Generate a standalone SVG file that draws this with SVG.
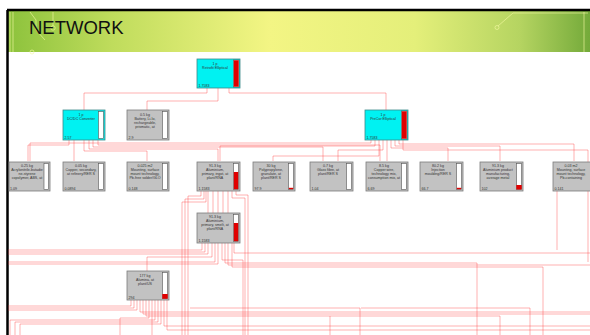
<svg xmlns="http://www.w3.org/2000/svg" width="590" height="335" viewBox="0 0 590 335">
<defs>
<linearGradient id="hdr" x1="0" y1="0" x2="1" y2="0">
<stop offset="0" stop-color="#8cc23c"/>
<stop offset="0.18" stop-color="#bfdc5c"/>
<stop offset="0.45" stop-color="#f3f584"/>
<stop offset="0.7" stop-color="#e4ef7a"/>
<stop offset="0.88" stop-color="#b5d461"/>
<stop offset="1" stop-color="#74aa3a"/>
</linearGradient>
</defs>
<style>
.c{fill:none;stroke:#ff3030;stroke-opacity:.38;stroke-width:1}
.gr{fill:#c2c2c2;stroke:#7c7c7c;stroke-width:.8}
.cy{fill:#00f2f2;stroke:#3d8b8b;stroke-width:.8}
.bar{fill:#fff;stroke:#555;stroke-width:.6}
.red{fill:#e00000}
.deco{fill:none;stroke:#f2f8a0;stroke-width:.8;stroke-opacity:.8}
text{font-family:"Liberation Sans",Arial,sans-serif;font-size:3.6px;fill:#333}
.t{text-anchor:middle}
.h{font-size:18.5px;fill:#111}
</style>
<rect width="590" height="335" fill="#fff"/>
<rect x="7" y="11" width="583" height="41" fill="url(#hdr)"/>
<g class="deco">
<path d="M10,12 V52 M13,12 V52 M30,12 L36,20 V30 L45,40"/>
<circle cx="53" cy="28" r="2.2"/>
<path d="M53,26 V12"/>
<circle cx="32" cy="52" r="2"/>
<path d="M513,13 L498,26 M513,13 H588"/>
<circle cx="497" cy="27.5" r="2"/>
<path d="M584,12 V52"/>
</g>
<path d="M7,10 H590 M7.5,10 V335" fill="none" stroke="#000" stroke-width="2.5"/>
<text class="h" x="29" y="34">NETWORK</text>

<g id="connectors">
<path class="c" d="M207,88 V93 H84 V110"/>
<path class="c" d="M218,88 V101 H147 V110"/>
<path class="c" d="M229,88 V93 H386 V110"/>
<path class="c" d="M69,140 V145 H28 V161"/>
<path class="c" d="M74,140 V161"/>
<path class="c" d="M84,140 V151 H147 V161"/>
<path class="c" d="M89,140 V149 H218 V161"/>
<path class="c" d="M93,140 V147 H323 V161"/>
<path class="c" d="M98,140 V145 H380 V161"/>
<path class="c" d="M371,140 V143 H30 V161"/>
<path class="c" d="M375,140 V146 H220 V161"/>
<path class="c" d="M379,140 V156 H273 V161"/>
<path class="c" d="M383,140 V150 H338 V161"/>
<path class="c" d="M387,140 V161"/>
<path class="c" d="M391,140 V148 H448 V161"/>
<path class="c" d="M395,140 V146 H500 V161"/>
<path class="c" d="M399,140 V144 H574 V161"/>
<path class="c" d="M403,140 V150 H588 V262"/>
<path class="c" d="M201,191 V196 H188 V335"/>
<path class="c" d="M204,191 V199 H185 V335"/>
<path class="c" d="M206,191 V202 H182 V335"/>
<path class="c" d="M208,191 V213"/>
<path class="c" d="M213,191 V213"/>
<path class="c" d="M218,191 V213"/>
<path class="c" d="M223,191 V213"/>
<path class="c" d="M228,191 V213"/>
<path class="c" d="M232,191 V198 H245 V335"/>
<path class="c" d="M236,191 V195 H248 V335"/>
<path class="c" d="M202,243 V250 H8"/>
<path class="c" d="M205,243 V252 H8"/>
<path class="c" d="M208,243 V254 H8"/>
<path class="c" d="M212,243 V257 H147 V271"/>
<path class="c" d="M215,243 V262 H8"/>
<path class="c" d="M218,243 V264 H8"/>
<path class="c" d="M222,243 V260 H243 V335"/>
<path class="c" d="M225,243 V263 H477 V335"/>
<path class="c" d="M228,243 V265 H590"/>
<path class="c" d="M232,243 V267 H543 V335"/>
<path class="c" d="M234,243 V253 H590"/>
<path class="c" d="M131,300 V306 H8"/>
<path class="c" d="M134,300 V308 H8"/>
<path class="c" d="M137,300 V310 H8"/>
<path class="c" d="M140,300 V312 H590"/>
<path class="c" d="M143,300 V314 H590"/>
<path class="c" d="M146,300 V316 H330 V335"/>
<path class="c" d="M149,300 V318 H120 V335"/>
<path class="c" d="M152,300 V335"/>
<path class="c" d="M155,300 V320 H10 V335"/>
<path class="c" d="M158,300 V322 H15 V335"/>
<path class="c" d="M161,300 V324 H20 V335"/>
<path class="c" d="M164,300 V326 H590"/>
<path class="c" d="M167,300 V330 H590"/>
<path class="c" d="M190,308 H360 V335"/>
<path class="c" d="M361,308 H530 V335"/>
<path class="c" d="M330,316 H500 V335"/>
<path class="c" d="M557,191 V250"/>
</g>

<g id="n-retrofit">
<rect class="cy" x="197" y="59" width="43" height="29"/>
<rect class="bar" x="233.5" y="60" width="5.5" height="27"/>
<rect class="red" x="233.8" y="60.3" width="4.9" height="26.4"/>
<text class="t" x="215" y="65">1 p</text>
<text class="t" x="215" y="69">Retrofit Elliptical</text>
<text x="198.5" y="86.5">1.7583</text>
</g>
<g id="n-dcdc">
<rect class="cy" x="63" y="110" width="42" height="30"/>
<rect class="bar" x="98.5" y="111.5" width="5" height="27"/>
<text class="t" x="81" y="116">1 p</text>
<text class="t" x="81" y="120">DC/DC Converter</text>
<text x="64.5" y="138.5">2.57</text>
</g>
<g id="n-battery">
<rect class="gr" x="127" y="110" width="42" height="30"/>
<rect class="bar" x="162.5" y="111.5" width="5" height="27"/>
<text class="t" x="145" y="116">0.5 kg</text>
<text class="t" x="145" y="120">Battery, Li-Io,</text>
<text class="t" x="145" y="124">rechargeable,</text>
<text class="t" x="145" y="128">prismatic, at</text>
<text x="128.5" y="138.5">2.9</text>
</g>
<g id="n-precor">
<rect class="cy" x="365" y="110" width="43" height="30"/>
<rect class="bar" x="401.5" y="111" width="5.5" height="28"/>
<rect class="red" x="401.8" y="111.3" width="4.9" height="27.4"/>
<text class="t" x="383" y="116">1 p</text>
<text class="t" x="383" y="120">PreCor Elliptical</text>
<text x="366.5" y="138.5">1.7583</text>
</g>

<g id="n-abs">
<rect class="gr" x="9" y="162" width="41" height="29"/>
<rect class="bar" x="44" y="163.5" width="4.5" height="26"/>
<text class="t" x="27" y="167">0.25 kg</text>
<text class="t" x="27" y="171">Acrylonitrile-butadie</text>
<text class="t" x="27" y="175">ne-styrene</text>
<text class="t" x="27" y="179">copolymer, ABS, at</text>
<text x="10" y="189.5">1.09</text>
</g>
<g id="n-copper">
<rect class="gr" x="63" y="162" width="42" height="29"/>
<rect class="bar" x="98.5" y="163.5" width="5" height="26"/>
<text class="t" x="81" y="167">0.05 kg</text>
<text class="t" x="81" y="171">Copper, secondary,</text>
<text class="t" x="81" y="175">at refinery/RER S</text>
<text x="64.5" y="189.5">0.0894</text>
</g>
<g id="n-mount-pbfree">
<rect class="gr" x="127" y="162" width="42" height="29"/>
<rect class="bar" x="162.5" y="163.5" width="5" height="26"/>
<text class="t" x="145" y="167">0.025 m2</text>
<text class="t" x="145" y="171">Mounting, surface</text>
<text class="t" x="145" y="175">mount technology,</text>
<text class="t" x="145" y="179">Pb-free solder/GLO</text>
<text x="128.5" y="189.5">0.148</text>
</g>
<g id="n-al-ingot">
<rect class="gr" x="197" y="162" width="43" height="29"/>
<rect class="bar" x="233.5" y="163.5" width="5" height="26"/>
<rect class="red" x="233.8" y="172" width="4.4" height="17.2"/>
<text class="t" x="215" y="167">91.3 kg</text>
<text class="t" x="215" y="171">Aluminium,</text>
<text class="t" x="215" y="175">primary, ingot, at</text>
<text class="t" x="215" y="179">plant/RNA</text>
<text x="198.5" y="189.5">1.1583</text>
</g>
<g id="n-pp">
<rect class="gr" x="253" y="162" width="42" height="29"/>
<rect class="bar" x="288.5" y="163.5" width="5" height="26"/>
<rect class="red" x="288.8" y="187.8" width="4.4" height="1.4"/>
<text class="t" x="271" y="167">30 kg</text>
<text class="t" x="271" y="171">Polypropylene,</text>
<text class="t" x="271" y="175">granulate, at</text>
<text class="t" x="271" y="179">plant/RER S</text>
<text x="254.5" y="189.5">97.9</text>
</g>
<g id="n-glass">
<rect class="gr" x="310" y="162" width="43" height="29"/>
<rect class="bar" x="346.5" y="163.5" width="5" height="26"/>
<text class="t" x="328" y="167">0.7 kg</text>
<text class="t" x="328" y="171">Glass fibre, at</text>
<text class="t" x="328" y="175">plant/RER S</text>
<text x="311.5" y="189.5">1.04</text>
</g>
<g id="n-copper-wire">
<rect class="gr" x="366" y="162" width="42" height="29"/>
<rect class="bar" x="401.5" y="163.5" width="5" height="26"/>
<text class="t" x="384" y="167">8.5 kg</text>
<text class="t" x="384" y="171">Copper wire,</text>
<text class="t" x="384" y="175">technology mix,</text>
<text class="t" x="384" y="179">consumption mix, at</text>
<text x="367.5" y="189.5">6.69</text>
</g>
<g id="n-injection">
<rect class="gr" x="420" y="162" width="43" height="29"/>
<rect class="bar" x="456.5" y="163.5" width="5" height="26"/>
<rect class="red" x="456.8" y="187.8" width="4.4" height="1.4"/>
<text class="t" x="438" y="167">80.2 kg</text>
<text class="t" x="438" y="171">Injection</text>
<text class="t" x="438" y="175">moulding/RER S</text>
<text x="421.5" y="189.5">66.7</text>
</g>
<g id="n-al-product">
<rect class="gr" x="480" y="162" width="43" height="29"/>
<rect class="bar" x="516.5" y="163.5" width="5" height="26"/>
<rect class="red" x="516.3" y="185" width="5.4" height="4.5"/>
<text class="t" x="498" y="167">91.3 kg</text>
<text class="t" x="498" y="171">Aluminium product</text>
<text class="t" x="498" y="175">manufacturing,</text>
<text class="t" x="498" y="179">average metal</text>
<text x="481.5" y="189.5">102</text>
</g>
<g id="n-mount-pb">
<rect class="gr" x="553" y="162" width="42" height="29"/>
<text class="t" x="571" y="167">0.03 m2</text>
<text class="t" x="571" y="171">Mounting, surface</text>
<text class="t" x="571" y="175">mount technology,</text>
<text class="t" x="571" y="179">Pb-containing</text>
<text x="554.5" y="189.5">0.141</text>
</g>
<g id="n-al-smelt">
<rect class="gr" x="197" y="213" width="43" height="30"/>
<rect class="bar" x="233.5" y="214.5" width="5" height="27"/>
<rect class="red" x="233.8" y="223" width="4.4" height="18.2"/>
<text class="t" x="215" y="218">91.3 kg</text>
<text class="t" x="215" y="222">Aluminium,</text>
<text class="t" x="215" y="226">primary, smelt, at</text>
<text class="t" x="215" y="230">plant/RNA</text>
<text x="198.5" y="241.5">1.1583</text>
</g>
<g id="n-alumina">
<rect class="gr" x="127" y="271" width="42" height="29"/>
<rect class="bar" x="162.5" y="272.5" width="5" height="26"/>
<rect class="red" x="162.3" y="294" width="5.4" height="4.8"/>
<text class="t" x="145" y="277">177 kg</text>
<text class="t" x="145" y="281">Alumina, at</text>
<text class="t" x="145" y="285">plant/US</text>
<text x="128.5" y="298.5">294</text>
</g>
</svg>
